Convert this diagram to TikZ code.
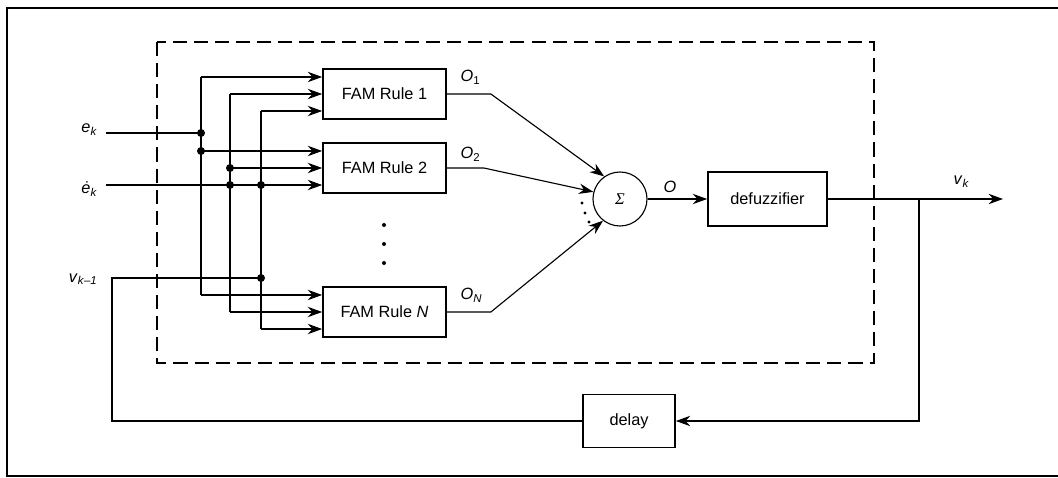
\documentclass[tikz,border=0pt]{standalone}
\usepackage{fontspec}
\setmainfont{Liberation Sans}
\newfontfamily\sumfont{Liberation Serif}
\usetikzlibrary{arrows.meta}

\begin{document}
\begin{tikzpicture}[x=0.025cm, y=-0.025cm, line width=0.8pt, >={Stealth[length=3.6mm,width=2.6mm]}, font=\fontsize{11.6}{14}\selectfont]
    \tikzstyle{block}=[draw, rectangle, line width=1.2pt, inner sep=0pt]
    \tikzstyle{fam rule}=[block, minimum width=3.075cm, minimum height=1.25cm]
    \tikzstyle{junction}=[circle, fill, inner sep=0pt, minimum size=2mm]
    \tikzstyle{small dot}=[circle, fill, inner sep=0pt, minimum size=1mm]
    \tikzstyle{annot}=[inner sep=0pt]

    \useasboundingbox (0,0) rectangle (1058,478);
    \draw[line width=1.2pt] (7,8) rectangle (1070,476);

    % Draw the controller border
    \draw[line width=1.6pt, dash pattern=on 10pt off 5pt] (157,42) rectangle (874,363);

    % Draw the FAM rule nodes
    \foreach \name / \y / \txt in {1/94/1, 2/168/2, N/312/{\textit{N}}}
        \node[fam rule] (R-\name) at (384.5,\y) {FAM Rule \txt};
    \foreach \y in {225,244,263}
        \node[small dot] (dot-\y) at (384,\y) {};

    % Sum, defuzzifier and delay
    \node[draw, circle, minimum size=1.35cm, inner sep=0pt] (S) at (620,199) {\sumfont\itshape Σ};
    \node[block, minimum width=2.975cm, minimum height=1.35cm] (D) at (767.5,199) {defuzzifier};
    \node[block, minimum width=2.3cm, minimum height=1.325cm] (delay) at (629,421) {delay};

    % Input points and buses
    \coordinate (A) at (201,0);
    \coordinate (B) at (230,0);
    \coordinate (C) at (261,0);
    \coordinate (e) at (106,133);
    \coordinate (ed) at (106,185);
    \coordinate (v) at (112,278);
    \foreach \name in {1,2,N} {
        \coordinate (R-\name-a) at ([yshift=0.425cm]R-\name.west);
        \coordinate (R-\name-b) at (R-\name.west);
        \coordinate (R-\name-c) at ([yshift=-0.425cm]R-\name.west);
    }

    % Connect every bus with every FAM rule
    \foreach \bus / \pin in {A/a, B/b, C/c} {
        \draw (R-1-\pin -| \bus) -- (R-N-\pin -| \bus);
        \foreach \name in {1,2,N}
            \draw[->] (R-\name-\pin -| \bus) -- (R-\name-\pin);
    }
    \draw (e) -- (e -| A);
    \draw (ed) -- (ed -| C);
    \draw (delay.west) -| (v) -- (v -| C);
    \foreach \p / \q [count=\i] in {e/A, R-2-a/A, R-2-b/B, ed/B, ed/C, v/C}
        \node[junction] (J-\i) at (\p -| \q) {};

    % Annotate the inputs
    \node[annot, anchor=base east] (el) at (98,133) {\textit{e}\textsubscript{\textit{k}}};
    \node[annot, anchor=base east] (edl) at (98,194) {\textit{\.{e}}\textsubscript{\textit{k}}};
    \node[annot, anchor=base east] (vl) at (98,282) {\textit{v}\textsubscript{\textit{k}–\textit{1}}};

    % Connect every FAM rule with the sum
    \foreach \name / \dx / \ang in {1/1.1/125, 2/0.925/165, N/1.1/232}
        \draw[->] (R-\name.east) -- ++(\dx cm,0) -- (S.\ang);
    \node[annot, anchor=base west] (o-1) at (460,82) {\textit{O}\textsubscript{1}};
    \node[annot, anchor=base west] (o-2) at (460,159) {\textit{O}\textsubscript{2}};
    \node[annot, anchor=base west] (o-N) at (460,300) {\textit{O}\textsubscript{\textit{N}}};
    \foreach \x / \y in {582/203, 585/213, 589/222}
        \node[small dot, minimum size=0.8mm] (sd-\y) at (\x,\y) {};

    % Output and feedback
    \coordinate (out) at (1003,199);
    \coordinate (tap) at (919,199);
    \draw[->] (S) -- (D);
    \node[annot, anchor=base west] (o) at (663,193) {\textit{O}};
    \draw[->] (D) -- (out);
    \draw[->] (tap) |- (delay);
    \node[annot, anchor=base west] (vk) at (953,185) {\textit{v}\textsubscript{\textit{k}}};
\end{tikzpicture}
\end{document}
